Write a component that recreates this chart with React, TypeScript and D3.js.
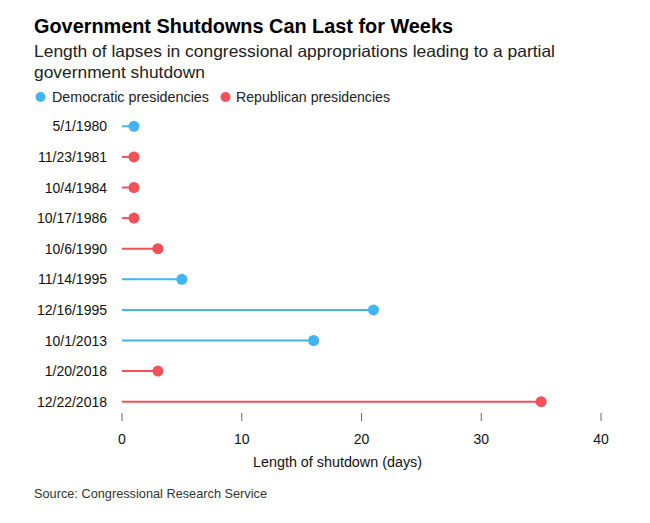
import { useEffect } from 'react';
import * as d3 from 'd3';

const dates = [
  '5/1/1980',
  '11/23/1981',
  '10/4/1984',
  '10/17/1986',
  '10/6/1990',
  '11/14/1995',
  '12/16/1995',
  '10/1/2013',
  '1/20/2018',
  '12/22/2018',
];
const days = [1, 1, 1, 1, 3, 5, 21, 16, 3, 35];
const party = ['D', 'R', 'R', 'R', 'R', 'D', 'D', 'D', 'R', 'R'];
const xTicks = [0, 10, 20, 30, 40];

const BLUE = '#42b4f2';
const RED = '#f3505a';
const FONT = "'Liberation Sans', Arial, sans-serif";

const App = () => {
  useEffect(() => {
    document.body.style.margin = '0';
  }, []);

  const width = 650;
  const height = 523;

  const x = d3.scaleLinear().domain([0, 40]).range([122, 601]);
  const y = d3
    .scaleBand()
    .domain(dates)
    .range([111, 417])
    .paddingInner(0)
    .paddingOuter(0);

  const color = (p: string) => (p === 'D' ? BLUE : RED);

  return (
    <svg width={width} height={height} style={{ display: 'block' }} fontFamily={FONT}>
      <rect width={width} height={height} fill="#fff" />
      {/* заголовок */}
      <text x={34} y={33} fontSize={21} fontWeight="bold" fill="#000" textLength={419} lengthAdjust="spacingAndGlyphs">
        Government Shutdowns Can Last for Weeks
      </text>
      <text x={34} y={57} fontSize={16.5} fill="#222" textLength={521} lengthAdjust="spacingAndGlyphs">
        Length of lapses in congressional appropriations leading to a partial
      </text>
      <text x={34} y={78} fontSize={16.5} fill="#222" textLength={171} lengthAdjust="spacingAndGlyphs">
        government shutdown
      </text>

      {/* легенда */}
      <circle cx={40.5} cy={97} r={5} fill={BLUE} />
      <text x={52} y={102} fontSize={14.5} fill="#222" textLength={157} lengthAdjust="spacingAndGlyphs">
        Democratic presidencies
      </text>
      <circle cx={225.5} cy={97} r={5} fill={RED} />
      <text x={236} y={102} fontSize={14.5} fill="#222" textLength={154} lengthAdjust="spacingAndGlyphs">
        Republican presidencies
      </text>

      {/* строки */}
      {dates.map((d, i) => {
        const cy = (y(d) ?? 0) + y.bandwidth() / 2;
        const c = color(party[i]);
        return (
          <g key={d}>
            <text x={107} y={cy + 5} fontSize={14} fill="#111" textAnchor="end">
              {d}
            </text>
            <line x1={x(0)} x2={x(days[i])} y1={cy} y2={cy} stroke={c} strokeWidth={2} />
            <circle cx={x(days[i])} cy={cy} r={5.5} fill={c} />
          </g>
        );
      })}

      {/* ось X */}
      {xTicks.map((t) => (
        <g key={t}>
          <line x1={x(t)} x2={x(t)} y1={413} y2={421} stroke="#666" strokeWidth={1} />
          <text x={x(t)} y={444} fontSize={14} fill="#111" textAnchor="middle">
            {t}
          </text>
        </g>
      ))}
      <text x={337.5} y={467} fontSize={14} fill="#111" textAnchor="middle" textLength={169} lengthAdjust="spacingAndGlyphs">
        Length of shutdown (days)
      </text>

      <text x={34} y={498} fontSize={13.5} fill="#333" textLength={233} lengthAdjust="spacingAndGlyphs">
        Source: Congressional Research Service
      </text>
    </svg>
  );
};

export default App;
